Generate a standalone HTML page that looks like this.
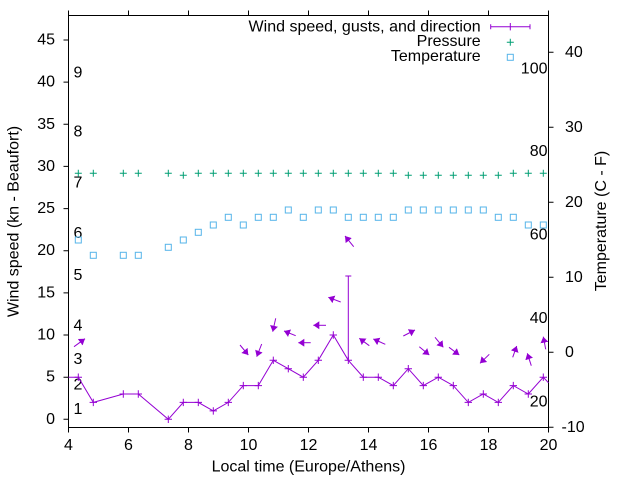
<!DOCTYPE html>
<html><head><meta charset="utf-8"><style>
html,body{margin:0;padding:0;background:#fff;}
svg{display:block;}
text{font-family:"Liberation Sans",Arial,sans-serif;font-size:16px;fill:#000;}
</style></head><body>
<svg width="640" height="480" viewBox="0 0 640 480" xmlns="http://www.w3.org/2000/svg">
<defs>
<marker id="ah" markerUnits="userSpaceOnUse" markerWidth="9" markerHeight="9" refX="6" refY="4" orient="auto">
<path d="M0,0 L6,4 L0,8 z" fill="#9400d3"/>
</marker>
</defs>
<rect width="640" height="480" fill="#fff"/>
<!-- border -->
<g stroke="#000" stroke-width="1" fill="none">
<rect x="68.5" y="15.5" width="480" height="412"/>
<path d="M68.5,427.5v5 M128.5,427.5v5 M188.5,427.5v5 M248.5,427.5v5 M308.5,427.5v5 M368.5,427.5v5 M428.5,427.5v5 M488.5,427.5v5 M548.5,427.5v5"/>
<path d="M68.5,15.5v-5 M128.5,15.5v-5 M188.5,15.5v-5 M248.5,15.5v-5 M308.5,15.5v-5 M368.5,15.5v-5 M428.5,15.5v-5 M488.5,15.5v-5 M548.5,15.5v-5"/>
<path d="M63.5,419.3h5 M63.5,377.2h5 M63.5,335h5 M63.5,292.9h5 M63.5,250.7h5 M63.5,208.6h5 M63.5,166.4h5 M63.5,124.3h5 M63.5,82.1h5 M63.5,40h5"/>
<path d="M548.5,427.3h5 M548.5,352.3h5 M548.5,277.3h5 M548.5,202.3h5 M548.5,127.3h5 M548.5,52.3h5"/>
</g>
<g text-anchor="end">
<text x="55" y="423.8">0</text>
<text x="55" y="381.7">5</text>
<text x="55" y="339.5">10</text>
<text x="55" y="297.4">15</text>
<text x="55" y="255.2">20</text>
<text x="55" y="213.1">25</text>
<text x="55" y="170.9">30</text>
<text x="55" y="128.8">35</text>
<text x="55" y="86.6">40</text>
<text x="55" y="44.5">45</text>
</g>
<g>
<text x="561.5" y="431.8">-10</text>
<text x="565" y="356.8">0</text>
<text x="565" y="281.8">10</text>
<text x="565" y="206.8">20</text>
<text x="565" y="131.8">30</text>
<text x="565" y="56.8">40</text>
</g>
<g text-anchor="middle">
<text x="68.5" y="450">4</text>
<text x="128.5" y="450">6</text>
<text x="188.5" y="450">8</text>
<text x="248.5" y="450">10</text>
<text x="308.5" y="450">12</text>
<text x="368.5" y="450">14</text>
<text x="428.5" y="450">16</text>
<text x="488.5" y="450">18</text>
<text x="548.5" y="450">20</text>
</g>
<text x="308.5" y="471.5" text-anchor="middle">Local time (Europe/Athens)</text>
<text transform="translate(18.3,221.5) rotate(-90)" text-anchor="middle">Wind speed (kn - Beaufort)</text>
<text transform="translate(606,221) rotate(-90)" text-anchor="middle">Temperature (C - F)</text>
<g>
<text x="73.5" y="414">1</text>
<text x="73.5" y="389.6">2</text>
<text x="73.5" y="364">3</text>
<text x="73.5" y="330.5">4</text>
<text x="73.5" y="280">5</text>
<text x="73.5" y="237.8">6</text>
<text x="73.5" y="187.3">7</text>
<text x="73.5" y="136.7">8</text>
<text x="73.5" y="77.7">9</text>
</g>
<g text-anchor="end">
<text x="547.5" y="73.3">100</text>
<text x="547.5" y="156">80</text>
<text x="547.5" y="239.6">60</text>
<text x="547.5" y="323">40</text>
<text x="547.5" y="406.5">20</text>
</g>
<g stroke="#009e73" stroke-width="1" fill="none">
<path d="M74.8,173.3h7M78.3,169.8v7 M89.8,173.3h7M93.3,169.8v7 M119.8,173.3h7M123.3,169.8v7 M134.8,173.3h7M138.3,169.8v7 M164.8,173.3h7M168.3,169.8v7 M179.8,175.3h7M183.3,171.8v7 M194.8,173.3h7M198.3,169.8v7 M209.8,173.3h7M213.3,169.8v7 M224.8,173.3h7M228.3,169.8v7 M239.8,173.3h7M243.3,169.8v7 M254.8,173.3h7M258.3,169.8v7 M269.8,173.3h7M273.3,169.8v7 M284.8,173.3h7M288.3,169.8v7 M299.8,173.3h7M303.3,169.8v7 M314.8,173.3h7M318.3,169.8v7 M329.8,173.3h7M333.3,169.8v7 M344.8,173.3h7M348.3,169.8v7 M359.8,173.3h7M363.3,169.8v7 M374.8,173.3h7M378.3,169.8v7 M389.8,173.3h7M393.3,169.8v7 M404.8,175.3h7M408.3,171.8v7 M419.8,175.3h7M423.3,171.8v7 M434.8,175.3h7M438.3,171.8v7 M449.8,175.3h7M453.3,171.8v7 M464.8,175.3h7M468.3,171.8v7 M479.8,175.3h7M483.3,171.8v7 M494.8,175.3h7M498.3,171.8v7 M509.8,173.3h7M513.3,169.8v7 M524.8,173.3h7M528.3,169.8v7 M539.8,173.3h7M543.3,169.8v7"/>
</g>
<g stroke="#56b4e9" stroke-width="1" fill="none">
<rect x="75.3" y="237" width="6" height="6"/>
<rect x="90.3" y="252.3" width="6" height="6"/>
<rect x="120.3" y="252.3" width="6" height="6"/>
<rect x="135.3" y="252.3" width="6" height="6"/>
<rect x="165.3" y="244.3" width="6" height="6"/>
<rect x="180.3" y="237" width="6" height="6"/>
<rect x="195.3" y="229.3" width="6" height="6"/>
<rect x="210.3" y="222" width="6" height="6"/>
<rect x="225.3" y="214.3" width="6" height="6"/>
<rect x="240.3" y="222" width="6" height="6"/>
<rect x="255.3" y="214.3" width="6" height="6"/>
<rect x="270.3" y="214.3" width="6" height="6"/>
<rect x="285.3" y="207" width="6" height="6"/>
<rect x="300.3" y="214.3" width="6" height="6"/>
<rect x="315.3" y="207" width="6" height="6"/>
<rect x="330.3" y="207" width="6" height="6"/>
<rect x="345.3" y="214.3" width="6" height="6"/>
<rect x="360.3" y="214.3" width="6" height="6"/>
<rect x="375.3" y="214.3" width="6" height="6"/>
<rect x="390.3" y="214.3" width="6" height="6"/>
<rect x="405.3" y="207" width="6" height="6"/>
<rect x="420.3" y="207" width="6" height="6"/>
<rect x="435.3" y="207" width="6" height="6"/>
<rect x="450.3" y="207" width="6" height="6"/>
<rect x="465.3" y="207" width="6" height="6"/>
<rect x="480.3" y="207" width="6" height="6"/>
<rect x="495.3" y="214.3" width="6" height="6"/>
<rect x="510.3" y="214.3" width="6" height="6"/>
<rect x="525.3" y="222" width="6" height="6"/>
<rect x="540.3" y="222" width="6" height="6"/>
</g>
<g stroke="#9400d3" stroke-width="1" fill="none">
<polyline points="68.5,377.2 78.3,377.2 93.3,402.4 123.3,394 138.3,394 168.3,419.3 183.3,402.4 198.3,402.4 213.3,410.9 228.3,402.4 243.3,385.6 258.3,385.6 273.3,360.3 288.3,368.7 303.3,377.2 318.3,360.3 333.3,335 348.3,360.3 363.3,377.2 378.3,377.2 393.3,385.6 408.3,368.7 423.3,385.6 438.3,377.2 453.3,385.6 468.3,402.4 483.3,394 498.3,402.4 513.3,385.6 528.3,394 543.3,377.2 548.5,382.8"/>
<path d="M348.3,360.3V276 M345.3,276h6"/>
<path d="M74.6,377.2h7.4M78.3,373.5v7.4 M89.6,402.4h7.4M93.3,398.7v7.4 M119.6,394h7.4M123.3,390.3v7.4 M134.6,394h7.4M138.3,390.3v7.4 M164.6,419.3h7.4M168.3,415.6v7.4 M179.6,402.4h7.4M183.3,398.7v7.4 M194.6,402.4h7.4M198.3,398.7v7.4 M209.6,410.9h7.4M213.3,407.2v7.4 M224.6,402.4h7.4M228.3,398.7v7.4 M239.6,385.6h7.4M243.3,381.9v7.4 M254.6,385.6h7.4M258.3,381.9v7.4 M269.6,360.3h7.4M273.3,356.6v7.4 M284.6,368.7h7.4M288.3,365v7.4 M299.6,377.2h7.4M303.3,373.5v7.4 M314.6,360.3h7.4M318.3,356.6v7.4 M329.6,335h7.4M333.3,331.3v7.4 M344.6,360.3h7.4M348.3,356.6v7.4 M359.6,377.2h7.4M363.3,373.5v7.4 M374.6,377.2h7.4M378.3,373.5v7.4 M389.6,385.6h7.4M393.3,381.9v7.4 M404.6,368.7h7.4M408.3,365v7.4 M419.6,385.6h7.4M423.3,381.9v7.4 M434.6,377.2h7.4M438.3,373.5v7.4 M449.6,385.6h7.4M453.3,381.9v7.4 M464.6,402.4h7.4M468.3,398.7v7.4 M479.6,394h7.4M483.3,390.3v7.4 M494.6,402.4h7.4M498.3,398.7v7.4 M509.6,385.6h7.4M513.3,381.9v7.4 M524.6,394h7.4M528.3,390.3v7.4 M539.6,377.2h7.4M543.3,373.5v7.4"/>
</g>
<g stroke="#9400d3" stroke-width="1" fill="none" marker-end="url(#ah)">
<line x1="74" y1="346.7" x2="85" y2="338.7"/>
<line x1="240" y1="345" x2="248.3" y2="355"/>
<line x1="261.7" y1="344" x2="256.7" y2="356.7"/>
<line x1="275.7" y1="318.3" x2="272.7" y2="331.7"/>
<line x1="295.7" y1="335.7" x2="284" y2="331"/>
<line x1="310.7" y1="342.7" x2="298.3" y2="342.7"/>
<line x1="326" y1="325.3" x2="313.3" y2="325.3"/>
<line x1="340.7" y1="302" x2="328.3" y2="297.3"/>
<line x1="353.7" y1="246.7" x2="345" y2="236"/>
<line x1="369.3" y1="345.7" x2="359.3" y2="338.3"/>
<line x1="385.3" y1="344.3" x2="373.3" y2="339"/>
<line x1="403.3" y1="336" x2="415" y2="330"/>
<line x1="419.3" y1="346.7" x2="429.3" y2="355"/>
<line x1="435" y1="337.3" x2="443.3" y2="347.3"/>
<line x1="449" y1="347.3" x2="459.3" y2="355"/>
<line x1="489.3" y1="354.3" x2="480" y2="363.3"/>
<line x1="512.7" y1="357.3" x2="516.7" y2="346"/>
<line x1="531.3" y1="365.7" x2="527.3" y2="353.3"/>
<line x1="545.7" y1="349.3" x2="543.3" y2="336.7"/>
</g>
<g text-anchor="end">
<text x="480.7" y="31.6">Wind speed, gusts, and direction</text>
<text x="480.7" y="46.2">Pressure</text>
<text x="480.7" y="61">Temperature</text>
</g>
<g stroke="#9400d3" stroke-width="1" fill="none">
<path d="M490.7,26.7H530 M490.7,24.2v5 M530,24.2v5 M510.3,23v7.4"/>
</g>
<path d="M506.8,42.3h7M510.3,38.8v7" stroke="#009e73" stroke-width="1" fill="none"/>
<rect x="507.3" y="54.3" width="6" height="6" stroke="#56b4e9" stroke-width="1" fill="none"/>
</svg>
</body></html>
